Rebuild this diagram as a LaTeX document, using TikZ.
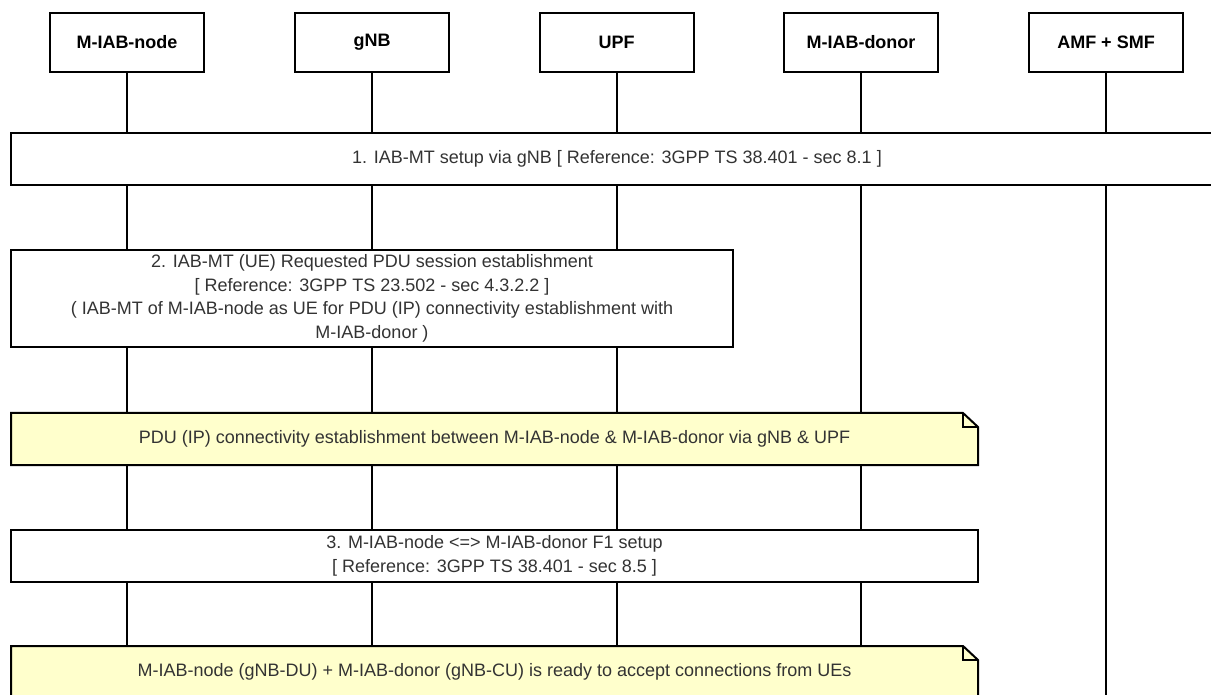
\documentclass[tikz,border=0pt]{standalone}
\usepackage{fontspec}
\setmainfont{Liberation Sans}
\definecolor{notefill}{HTML}{FFFFCC}
\definecolor{bodygray}{HTML}{333333}
\begin{document}
\begin{tikzpicture}[x=0.75pt,y=-0.75pt,
  every node/.style={inner sep=0pt,outer sep=0pt},
  actor/.style={draw=black,fill=white,line width=1.5pt,
    minimum width=115.5pt,minimum height=44.25pt,
    font=\bfseries\fontsize{13.5pt}{16pt}\selectfont,text=black},
  stepbox/.style={draw=black,fill=white,line width=1.5pt,align=center,
    font=\fontsize{13.5pt}{17.6pt}\selectfont,text=bodygray},
  notearea/.style={minimum width=725.25pt,minimum height=39pt},
  noteline/.style={draw=black,fill=notefill,line width=1.5pt,line join=miter},
  foldline/.style={draw=black,line width=1.5pt},
  notetext/.style={align=center,font=\fontsize{13.5pt}{17.6pt}\selectfont,text=bodygray},
  life/.style={draw=black,line width=1.5pt}]

\useasboundingbox (0,0) rectangle (1211,695);
\clip (0,0) rectangle (1211,695);

% participants
\node[actor] (hN) at (127,42.5)   {M-IAB-node};
\node[actor] (hG) at (372,42.5)   {gNB};
\node[actor] (hU) at (616.5,42.5) {UPF};
\node[actor] (hD) at (861,42.5)   {M-IAB-donor};
\node[actor] (hA) at (1106,42.5)  {AMF + SMF};

% step 1
\node[stepbox,minimum width=909pt,minimum height=39pt] (b1) at (617,159)
  {1. IAB-MT setup via gNB [ Reference: 3GPP TS 38.401 - sec 8.1 ]};

% step 2
\node[stepbox,minimum width=541.5pt,minimum height=72.75pt] (b2) at (372,298.5)
  {2. IAB-MT (UE) Requested PDU session establishment\\{}%
   [ Reference: 3GPP TS 23.502 - sec 4.3.2.2 ]\\
   ( IAB-MT of M-IAB-node as UE for PDU (IP) connectivity establishment with\\
   M-IAB-donor )};

% note 1
\node[notearea] (n1) at (494.5,439) {};
\filldraw[noteline] (n1.south west) -- (n1.north west)
  -- ([xshift=-11.25pt]n1.north east) -- ([yshift=-10.5pt]n1.north east)
  -- (n1.south east) -- cycle;
\draw[foldline] ([xshift=-11.25pt]n1.north east)
  -- ([xshift=-11.25pt,yshift=-10.5pt]n1.north east)
  -- ([yshift=-10.5pt]n1.north east);
\node[notetext] (n1t) at (n1)
  {PDU (IP) connectivity establishment between M-IAB-node \& M-IAB-donor via gNB \& UPF};

% step 3
\node[stepbox,minimum width=725.25pt,minimum height=39pt] (b3) at (494.5,556)
  {3. M-IAB-node <=> M-IAB-donor F1 setup\\{}%
   [ Reference: 3GPP TS 38.401 - sec 8.5 ]};

% note 2
\node[notearea] (n2) at (494.5,672) {};
\filldraw[noteline] (n2.south west) -- (n2.north west)
  -- ([xshift=-11.25pt]n2.north east) -- ([yshift=-10.5pt]n2.north east)
  -- (n2.south east) -- cycle;
\draw[foldline] ([xshift=-11.25pt]n2.north east)
  -- ([xshift=-11.25pt,yshift=-10.5pt]n2.north east)
  -- ([yshift=-10.5pt]n2.north east);
\node[notetext] (n2t) at (n2)
  {M-IAB-node (gNB-DU) + M-IAB-donor (gNB-CU) is ready to accept connections from UEs};

\coordinate (endA) at (1106,700);

% lifelines
\foreach \h in {hN,hG,hU,hD,hA}
  \draw[life] (\h.south) -- (b1.north -| \h);
\foreach \h in {hN,hG,hU} {
  \draw[life] (b1.south -| \h) -- (b2.north -| \h);
  \draw[life] (b2.south -| \h) -- (n1.north -| \h);
}
\draw[life] (b1.south -| hD) -- (n1.north -| hD);
\draw[life] (b1.south -| hA) -- (endA);
\foreach \h in {hN,hG,hU,hD} {
  \draw[life] (n1.south -| \h) -- (b3.north -| \h);
  \draw[life] (b3.south -| \h) -- (n2.north -| \h);
}
\end{tikzpicture}
\end{document}
